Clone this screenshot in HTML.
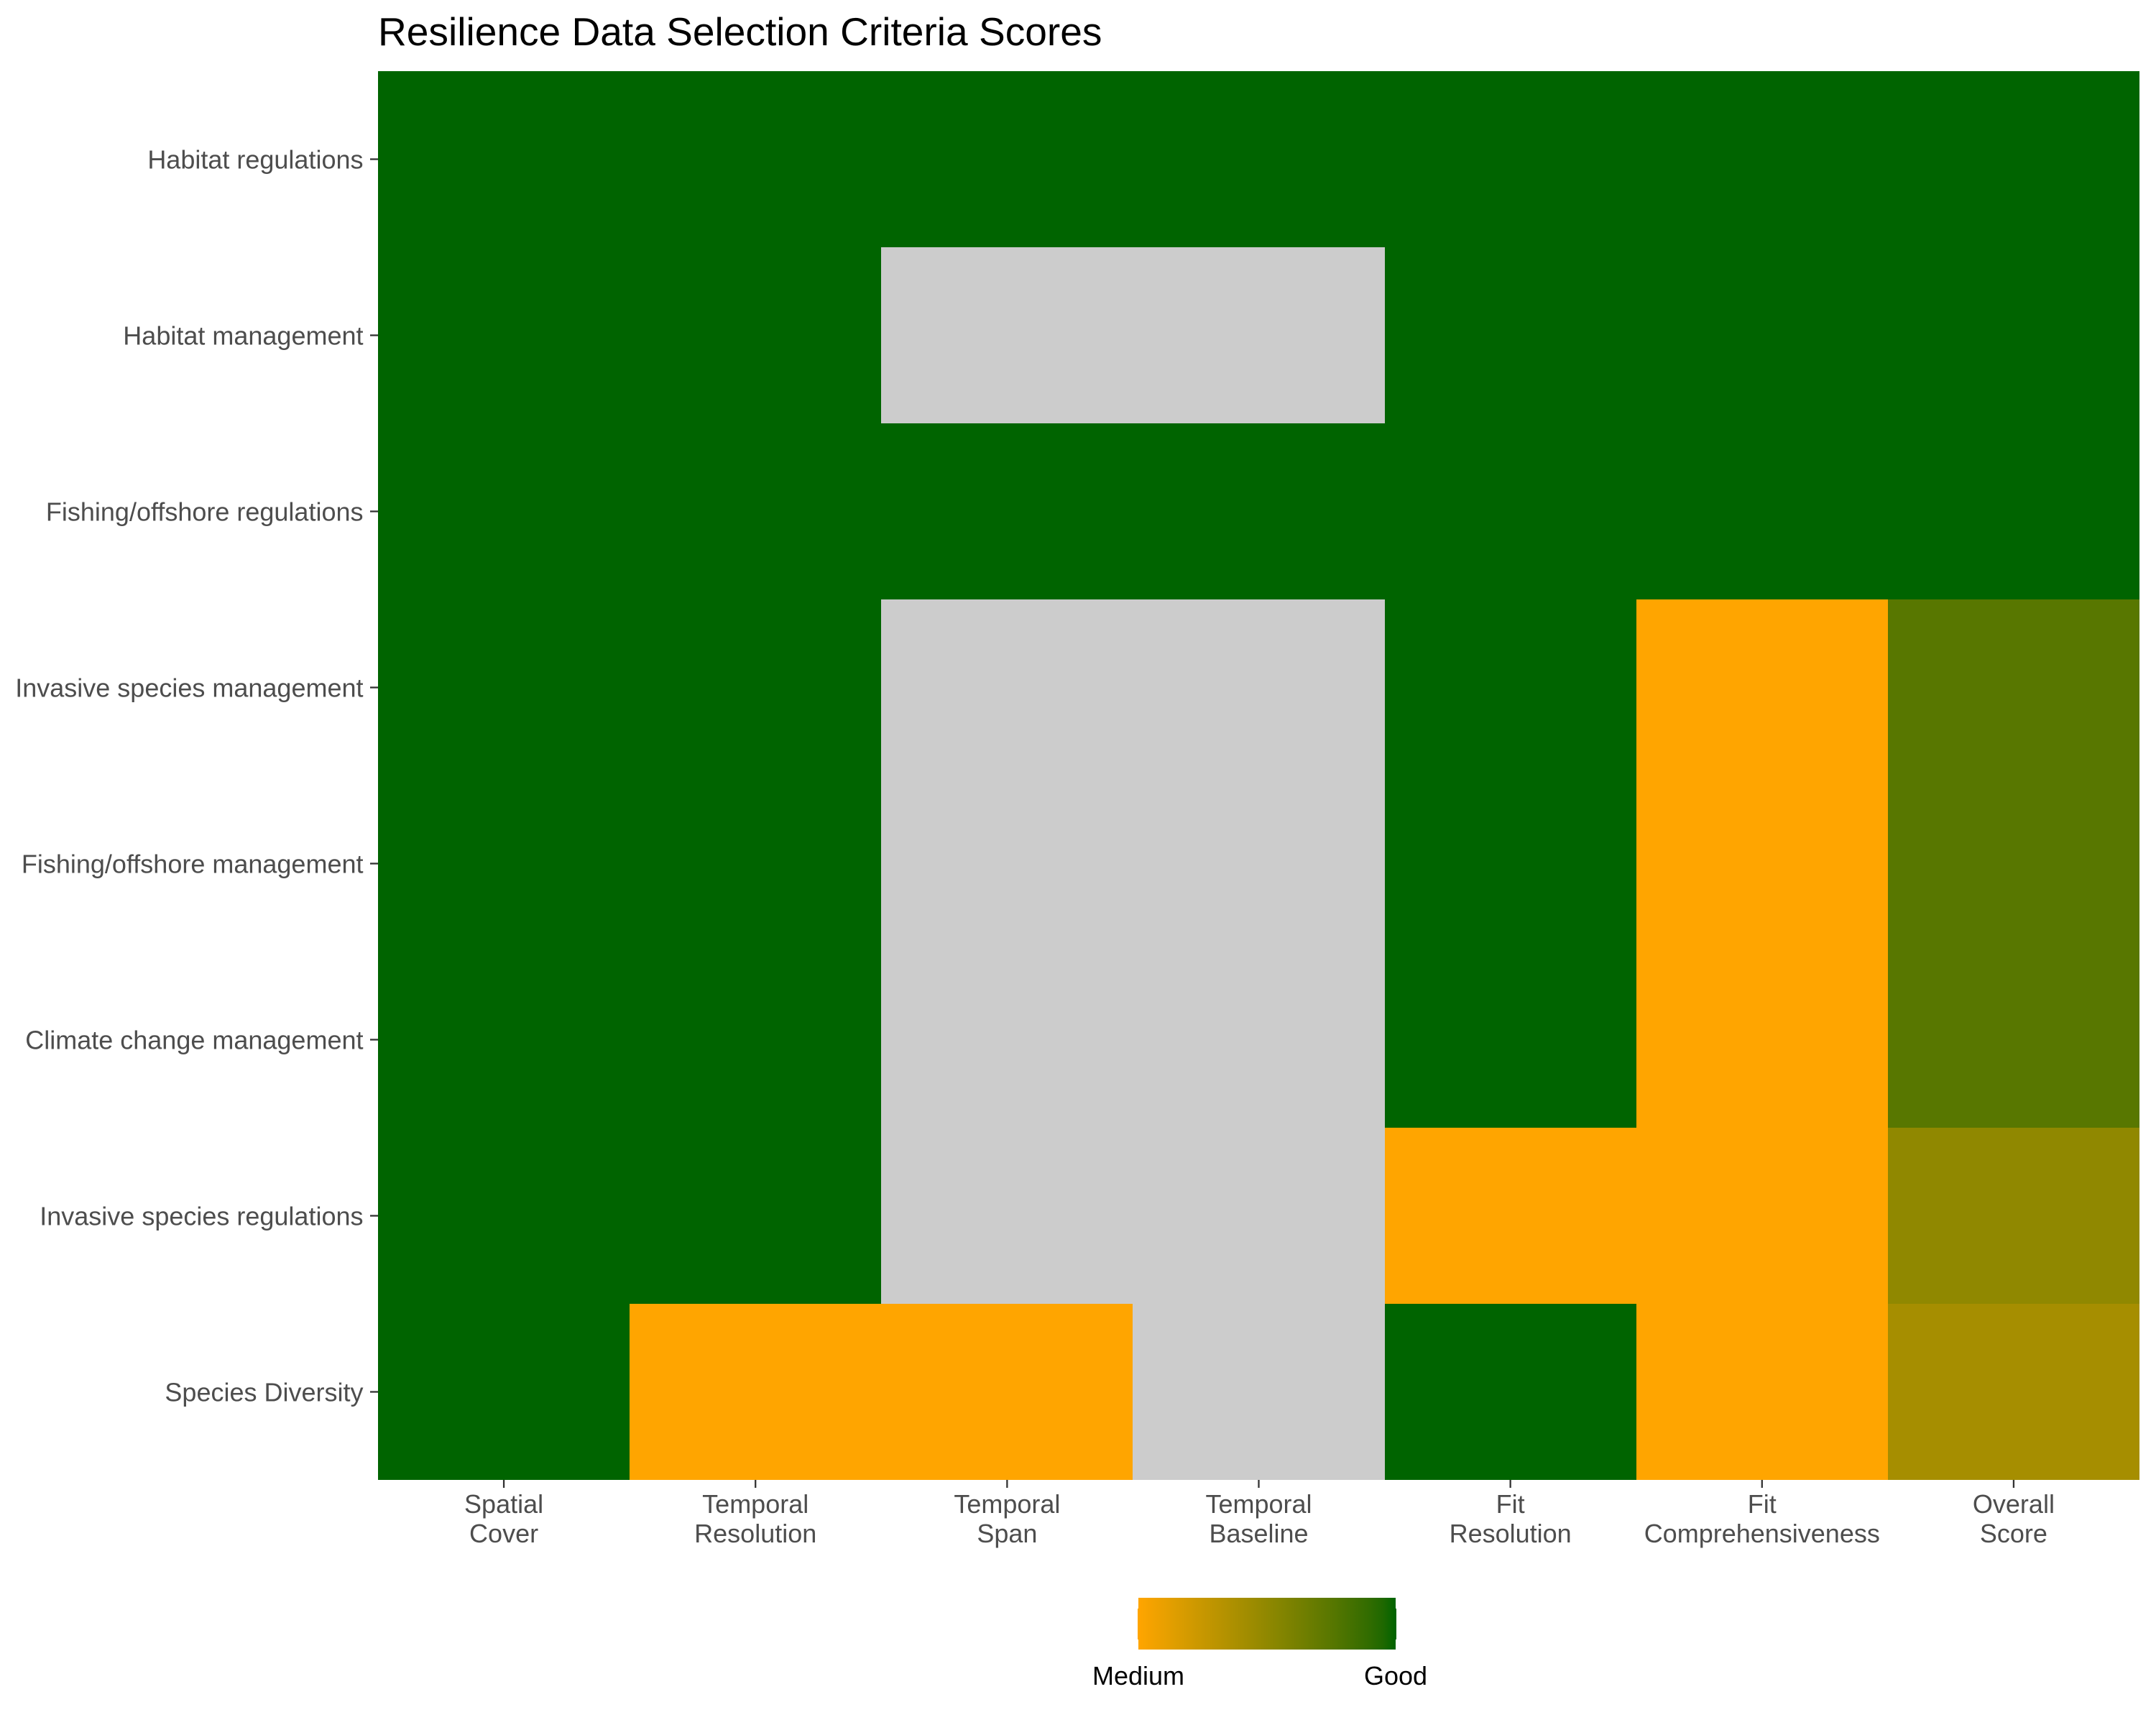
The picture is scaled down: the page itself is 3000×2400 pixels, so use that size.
<!DOCTYPE html>
<html lang="en">
<head>
<meta charset="utf-8">
<title>Resilience Data Selection Criteria Scores</title>
<style>
html,body{margin:0;padding:0;background:#fff;width:3000px;height:2400px;overflow:hidden}
svg{display:block}
text{font-family:"Liberation Sans",Arial,sans-serif}
</style>
</head>
<body>
<svg id="chart" xmlns="http://www.w3.org/2000/svg" width="3000" height="2400" viewBox="0 0 3000 2400">
  <rect x="0" y="0" width="3000" height="2400" fill="#ffffff"/>
  <text x="526" y="63" font-size="55.1" fill="#000000">Resilience Data Selection Criteria Scores</text>
  <g id="cells"></g>
  <g id="x-axis"></g>
  <g id="y-axis"></g>
  <g id="legend"></g>
</svg>
<script>
// Chart data
var criteria = ["Spatial\nCover", "Temporal\nResolution", "Temporal\nSpan", "Temporal\nBaseline", "Fit\nResolution", "Fit\nComprehensiveness", "Overall\nScore"];
var categories = ["Habitat regulations", "Habitat management", "Fishing/offshore regulations", "Invasive species management", "Fishing/offshore management", "Climate change management", "Invasive species regulations", "Species Diversity"];
// Scores: 3 = Good, 2 = Medium, null = not scored (grey)
var habitatRegulations = [3, 3, 3, 3, 3, 3, 3];
var habitatManagement = [3, 3, null, null, 3, 3, 3];
var fishingRegulations = [3, 3, 3, 3, 3, 3, 3];
var invasiveManagement = [3, 3, null, null, 3, 2, 2.75];
var fishingManagement = [3, 3, null, null, 3, 2, 2.75];
var climateManagement = [3, 3, null, null, 3, 2, 2.75];
var invasiveRegulations = [3, 3, null, null, 2, 2, 2.5];
var speciesDiversity = [3, 2, 2, null, 3, 2, 2.4];
var legendLabels = ["Medium", "Good"];
var legendBreaks = [2, 3];

var seriesRows = [habitatRegulations, habitatManagement, fishingRegulations, invasiveManagement, fishingManagement, climateManagement, invasiveRegulations, speciesDiversity];

var NS = "http://www.w3.org/2000/svg";
var plotLeft = 526, plotRight = 2977, plotTop = 99, plotBottom = 2059;
var bandW = (plotRight - plotLeft) / criteria.length;
var bandH = (plotBottom - plotTop) / categories.length;

function xEdge(i) { return Math.round(plotLeft + i * bandW); }
function yEdge(j) { return Math.round(plotTop + j * bandH); }
function xCenter(i) { return plotLeft + (i + 0.5) * bandW; }
function yCenter(j) { return plotTop + (j + 0.5) * bandH; }

// Colour scale: Lab interpolation between orange and dark green
function toLin(c) { c /= 255; return c > 0.04045 ? Math.pow((c + 0.055) / 1.055, 2.4) : c / 12.92; }
function fromLin(c) { var v = c > 0.0031308 ? 1.055 * Math.pow(c, 1 / 2.4) - 0.055 : 12.92 * c; return Math.max(0, Math.min(255, Math.round(v * 255))); }
function rgbToLab(r, g, b) {
  r = toLin(r); g = toLin(g); b = toLin(b);
  var X = (0.4124 * r + 0.3576 * g + 0.1805 * b) / 0.95047;
  var Y = 0.2126 * r + 0.7152 * g + 0.0722 * b;
  var Z = (0.0193 * r + 0.1192 * g + 0.9505 * b) / 1.08883;
  function f(t) { return t > 0.008856 ? Math.cbrt(t) : 7.787 * t + 16 / 116; }
  return [116 * f(Y) - 16, 500 * (f(X) - f(Y)), 200 * (f(Y) - f(Z))];
}
function labToHex(L, a, b) {
  var fy = (L + 16) / 116, fx = fy + a / 500, fz = fy - b / 200;
  function g(t) { return t * t * t > 0.008856 ? t * t * t : (t - 16 / 116) / 7.787; }
  var X = g(fx) * 0.95047, Y = g(fy), Z = g(fz) * 1.08883;
  var r = 3.2406 * X - 1.5372 * Y - 0.4986 * Z;
  var gg = -0.9689 * X + 1.8758 * Y + 0.0415 * Z;
  var bb = 0.0557 * X - 0.2040 * Y + 1.0570 * Z;
  function h(v) { return (256 + fromLin(v)).toString(16).slice(1); }
  return "#" + h(r) + h(gg) + h(bb);
}
var labLow = rgbToLab(255, 165, 0), labHigh = rgbToLab(0, 100, 0);
function colorScale(v) {
  if (v === null) { return "#cccccc"; }
  var t = (v - legendBreaks[0]) / (legendBreaks[1] - legendBreaks[0]);
  if (t <= 0) { return "#ffa500"; }
  if (t >= 1) { return "#006400"; }
  return labToHex(labLow[0] + t * (labHigh[0] - labLow[0]), labLow[1] + t * (labHigh[1] - labLow[1]), labLow[2] + t * (labHigh[2] - labLow[2]));
}

function mk(tag, parent, attrs) {
  var el = document.createElementNS(NS, tag);
  for (var k in attrs) { el.setAttribute(k, attrs[k]); }
  parent.appendChild(el);
  return el;
}
function slug(s) { return s.toLowerCase().replace(/[^a-z0-9]+/g, "-"); }

var cellsG = document.getElementById("cells");
seriesRows.forEach(function (row, j) {
  row.forEach(function (v, i) {
    var cell = mk("rect", cellsG, {
      x: xEdge(i), y: yEdge(j),
      width: xEdge(i + 1) - xEdge(i), height: yEdge(j + 1) - yEdge(j),
      fill: colorScale(v), "shape-rendering": "crispEdges"
    });
    
    
  });
});

var xAxisG = document.getElementById("x-axis");
criteria.forEach(function (label, i) {
  var cx = xCenter(i);
  var tick = mk("line", xAxisG, { x1: cx, x2: cx, y1: plotBottom, y2: plotBottom + 11, stroke: "#333333", "stroke-width": 2.3 });
  
  
  var t = mk("text", xAxisG, { x: cx, "text-anchor": "middle", "font-size": 36, fill: "#4d4d4d" });
  
  
  label.split("\n").forEach(function (line, n) {
    var ts = mk("tspan", t, { x: cx, y: 2105 + n * 41 });
    ts.textContent = line;
  });
});

var yAxisG = document.getElementById("y-axis");
categories.forEach(function (label, j) {
  var cy = yCenter(j);
  var tick = mk("line", yAxisG, { x1: plotLeft - 11, x2: plotLeft, y1: cy, y2: cy, stroke: "#333333", "stroke-width": 2.3 });
  
  
  var t = mk("text", yAxisG, { x: 505.5, y: cy + 13, "text-anchor": "end", "font-size": 36, fill: "#4d4d4d" });
  
  
  t.textContent = label;
});

// Legend colour bar
var legendG = document.getElementById("legend");
var barLeft = 1584, barRight = 1942;
function legendX(v) { return barLeft + (v - legendBreaks[0]) / (legendBreaks[1] - legendBreaks[0]) * (barRight - barLeft); }
var defs = mk("defs", legendG, {});
var grad = mk("linearGradient", defs, { id: "legend-gradient", x1: 0, x2: 1, y1: 0, y2: 0 });
for (var s = 0; s <= 20; s++) {
  mk("stop", grad, { offset: s / 20, "stop-color": colorScale(legendBreaks[0] + (legendBreaks[1] - legendBreaks[0]) * s / 20) });
}
var barCore = mk("rect", legendG, { x: barLeft - 1, y: 2238, width: barRight - barLeft + 2, height: 43, fill: "url(#legend-gradient)" });


var bar = mk("rect", legendG, { x: barLeft, y: 2223, width: barRight - barLeft, height: 72, fill: "url(#legend-gradient)" });


legendLabels.forEach(function (label, n) {
  var t = mk("text", legendG, { x: legendX(legendBreaks[n]), y: 2344, "text-anchor": "middle", "font-size": 36, fill: "#000000" });
  
  
  t.textContent = label;
});
</script>
</body>
</html>
